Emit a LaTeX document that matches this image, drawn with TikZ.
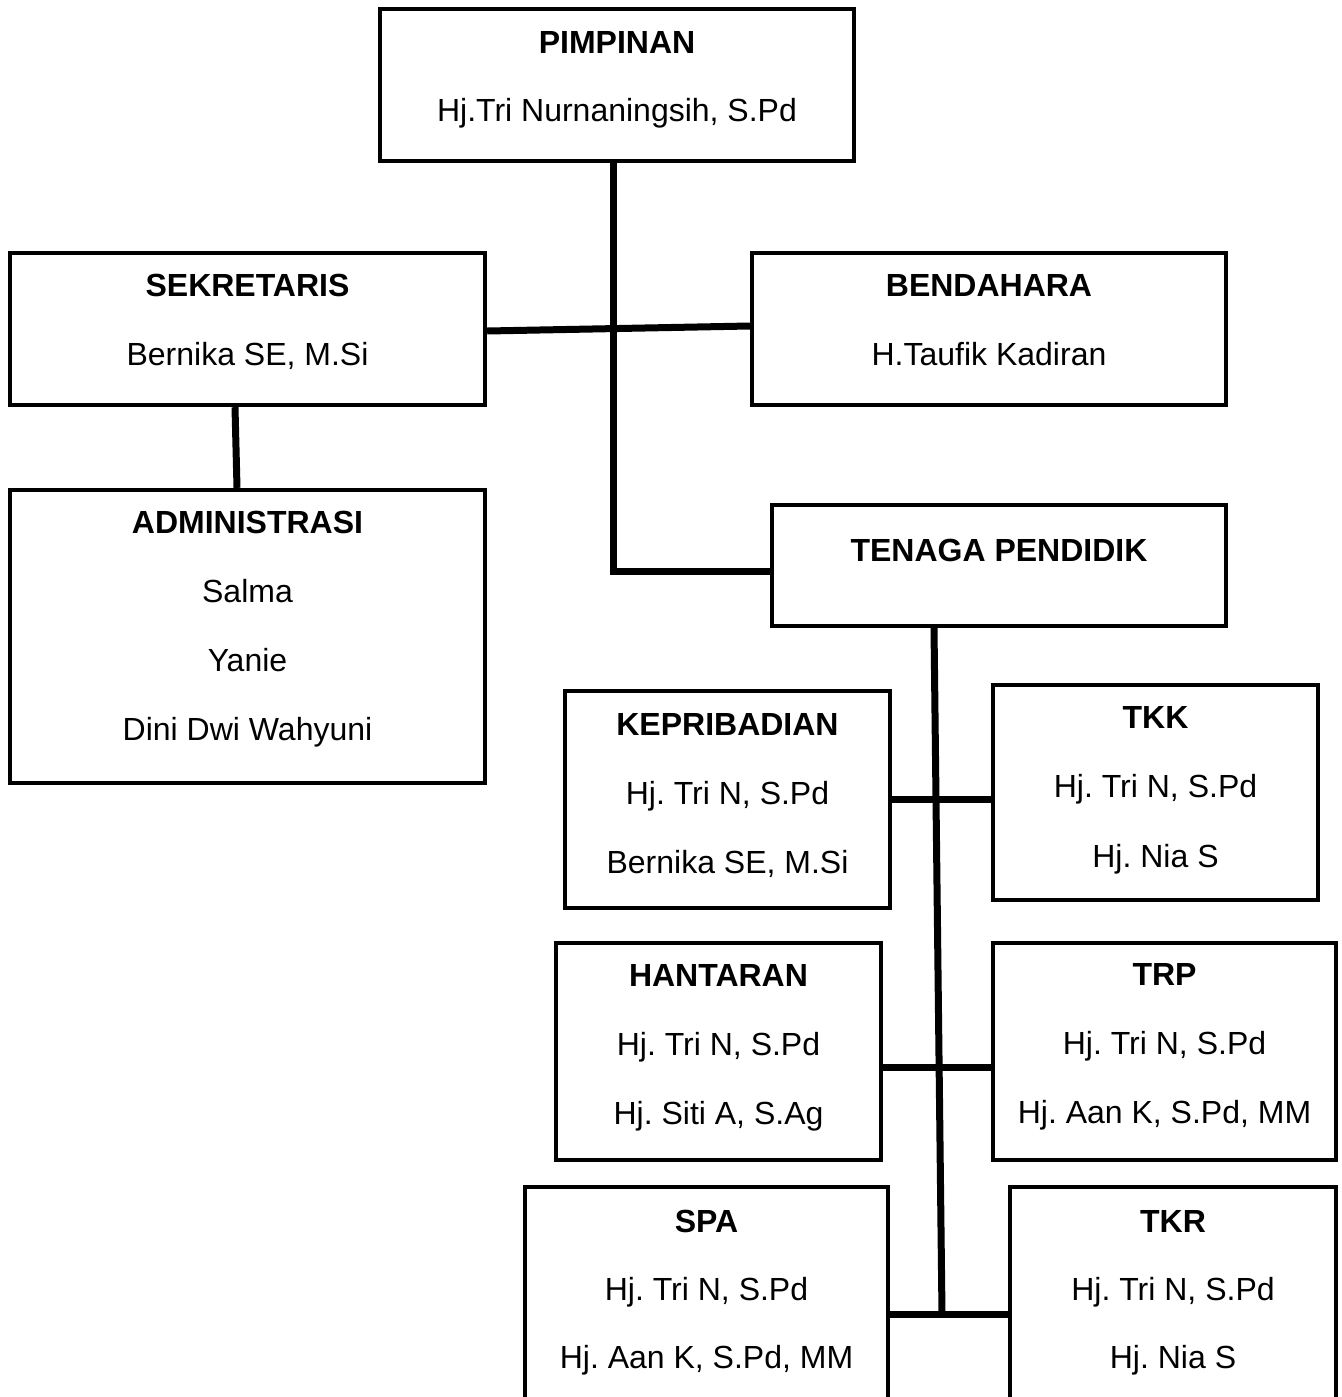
\documentclass[tikz,border=0pt]{standalone}
\usepackage{fontspec}
\setmainfont{Liberation Sans}
\frenchspacing
\begin{document}
\begin{tikzpicture}[x=0.5pt,y=-0.5pt,
    box/.style={draw, line width=2.2pt, inner sep=0pt},
    head/.style={font=\bfseries\fontsize{16}{19}\selectfont, anchor=base, inner sep=0pt},
    staff/.style={font=\fontsize{16}{19}\selectfont, anchor=base, inner sep=0pt},
    link/.style={line width=3.5pt}]
\useasboundingbox (0,0) rectangle (1342,1397);

% pimpinan, sekretaris, bendahara
\node[box, minimum width=237pt, minimum height=76pt] (pim) at (617,85) {};
\node[head] (pimT) at (617,53) {PIMPINAN};
\node[staff] (pimA) at (617,121) {Hj.Tri Nurnaningsih, S.Pd};

\node[box, minimum width=237.5pt, minimum height=76pt] (sek) at (247.5,329) {};
\node[head] (sekT) at (247.5,296) {SEKRETARIS};
\node[staff] (sekA) at (247.5,365) {Bernika SE, M.Si};

\node[box, minimum width=237pt, minimum height=76pt] (ben) at (989,329) {};
\node[head] (benT) at (989,296) {BENDAHARA};
\node[staff] (benA) at (989,365) {H.Taufik Kadiran};

% administrasi
\node[box, minimum width=237.5pt, minimum height=146.5pt] (adm) at (247.5,636.5) {};
\node[head] (admT) at (247.5,533) {ADMINISTRASI};
\node[staff] (admA) at (247.5,602) {Salma};
\node[staff] (admB) at (247.5,671) {Yanie};
\node[staff] (admC) at (247.5,740) {Dini Dwi Wahyuni};

% tenaga pendidik
\node[box, minimum width=227pt, minimum height=60.5pt] (ten) at (999,565.5) {};
\node[head] (tenT) at (999,561) {TENAGA PENDIDIK};

\node[box, minimum width=162.5pt, minimum height=108.5pt] (kep) at (727.5,799.5) {};
\node[head] (kepT) at (727.5,735) {KEPRIBADIAN};
\node[staff] (kepA) at (727.5,804) {Hj. Tri N, S.Pd};
\node[staff] (kepB) at (727.5,873) {Bernika SE, M.Si};

\node[box, minimum width=162.5pt, minimum height=107.5pt] (tkk) at (1155.5,792.5) {};
\node[head] (tkkT) at (1155.5,728) {TKK};
\node[staff] (tkkA) at (1155.5,797) {Hj. Tri N, S.Pd};
\node[staff] (tkkB) at (1155.5,867) {Hj. Nia S};

\node[box, minimum width=162.5pt, minimum height=108.5pt] (han) at (718.5,1051.5) {};
\node[head] (hanT) at (718.5,986) {HANTARAN};
\node[staff] (hanA) at (718.5,1055) {Hj. Tri N, S.Pd};
\node[staff] (hanB) at (718.5,1124) {Hj. Siti A, S.Ag};

\node[box, minimum width=171.5pt, minimum height=108.5pt] (trp) at (1164.5,1051.5) {};
\node[head] (trpT) at (1164.5,985) {TRP};
\node[staff] (trpA) at (1164.5,1054) {Hj. Tri N, S.Pd};
\node[staff] (trpB) at (1164.5,1123) {Hj. Aan K, S.Pd, MM};

\node[box, minimum width=181.5pt, minimum height=108.5pt] (spa) at (706.5,1295.5) {};
\node[head] (spaT) at (706.5,1232) {SPA};
\node[staff] (spaA) at (706.5,1300) {Hj. Tri N, S.Pd};
\node[staff] (spaB) at (706.5,1368) {Hj. Aan K, S.Pd, MM};

\node[box, minimum width=163pt, minimum height=108.5pt] (tkr) at (1173,1295.5) {};
\node[head] (tkrT) at (1173,1232) {TKR};
\node[staff] (tkrA) at (1173,1300) {Hj. Tri N, S.Pd};
\node[staff] (tkrB) at (1173,1368) {Hj. Nia S};

% connectors
\coordinate (jn) at (942,1314);
\draw[link] ([xshift=-2pt]pim.south) |- ([yshift=-2.75pt]ten.west);
\draw[link] ([yshift=-1pt]sek.east) -- ([yshift=1.5pt]ben.west);
\draw[link] ([xshift=-6.25pt]sek.south) -- ([xshift=-5.25pt]adm.north);
\draw[link] ([xshift=-32.5pt]ten.south) -- (jn);
\draw[link] (kep.east) -- (kep.east -| tkk.west);
\draw[link] ([yshift=-7.75pt]han.east) coordinate (hj) -- (hj -| trp.west);
\draw[link] (spa.east |- jn) -- (tkr.west |- jn);
\end{tikzpicture}
\end{document}
